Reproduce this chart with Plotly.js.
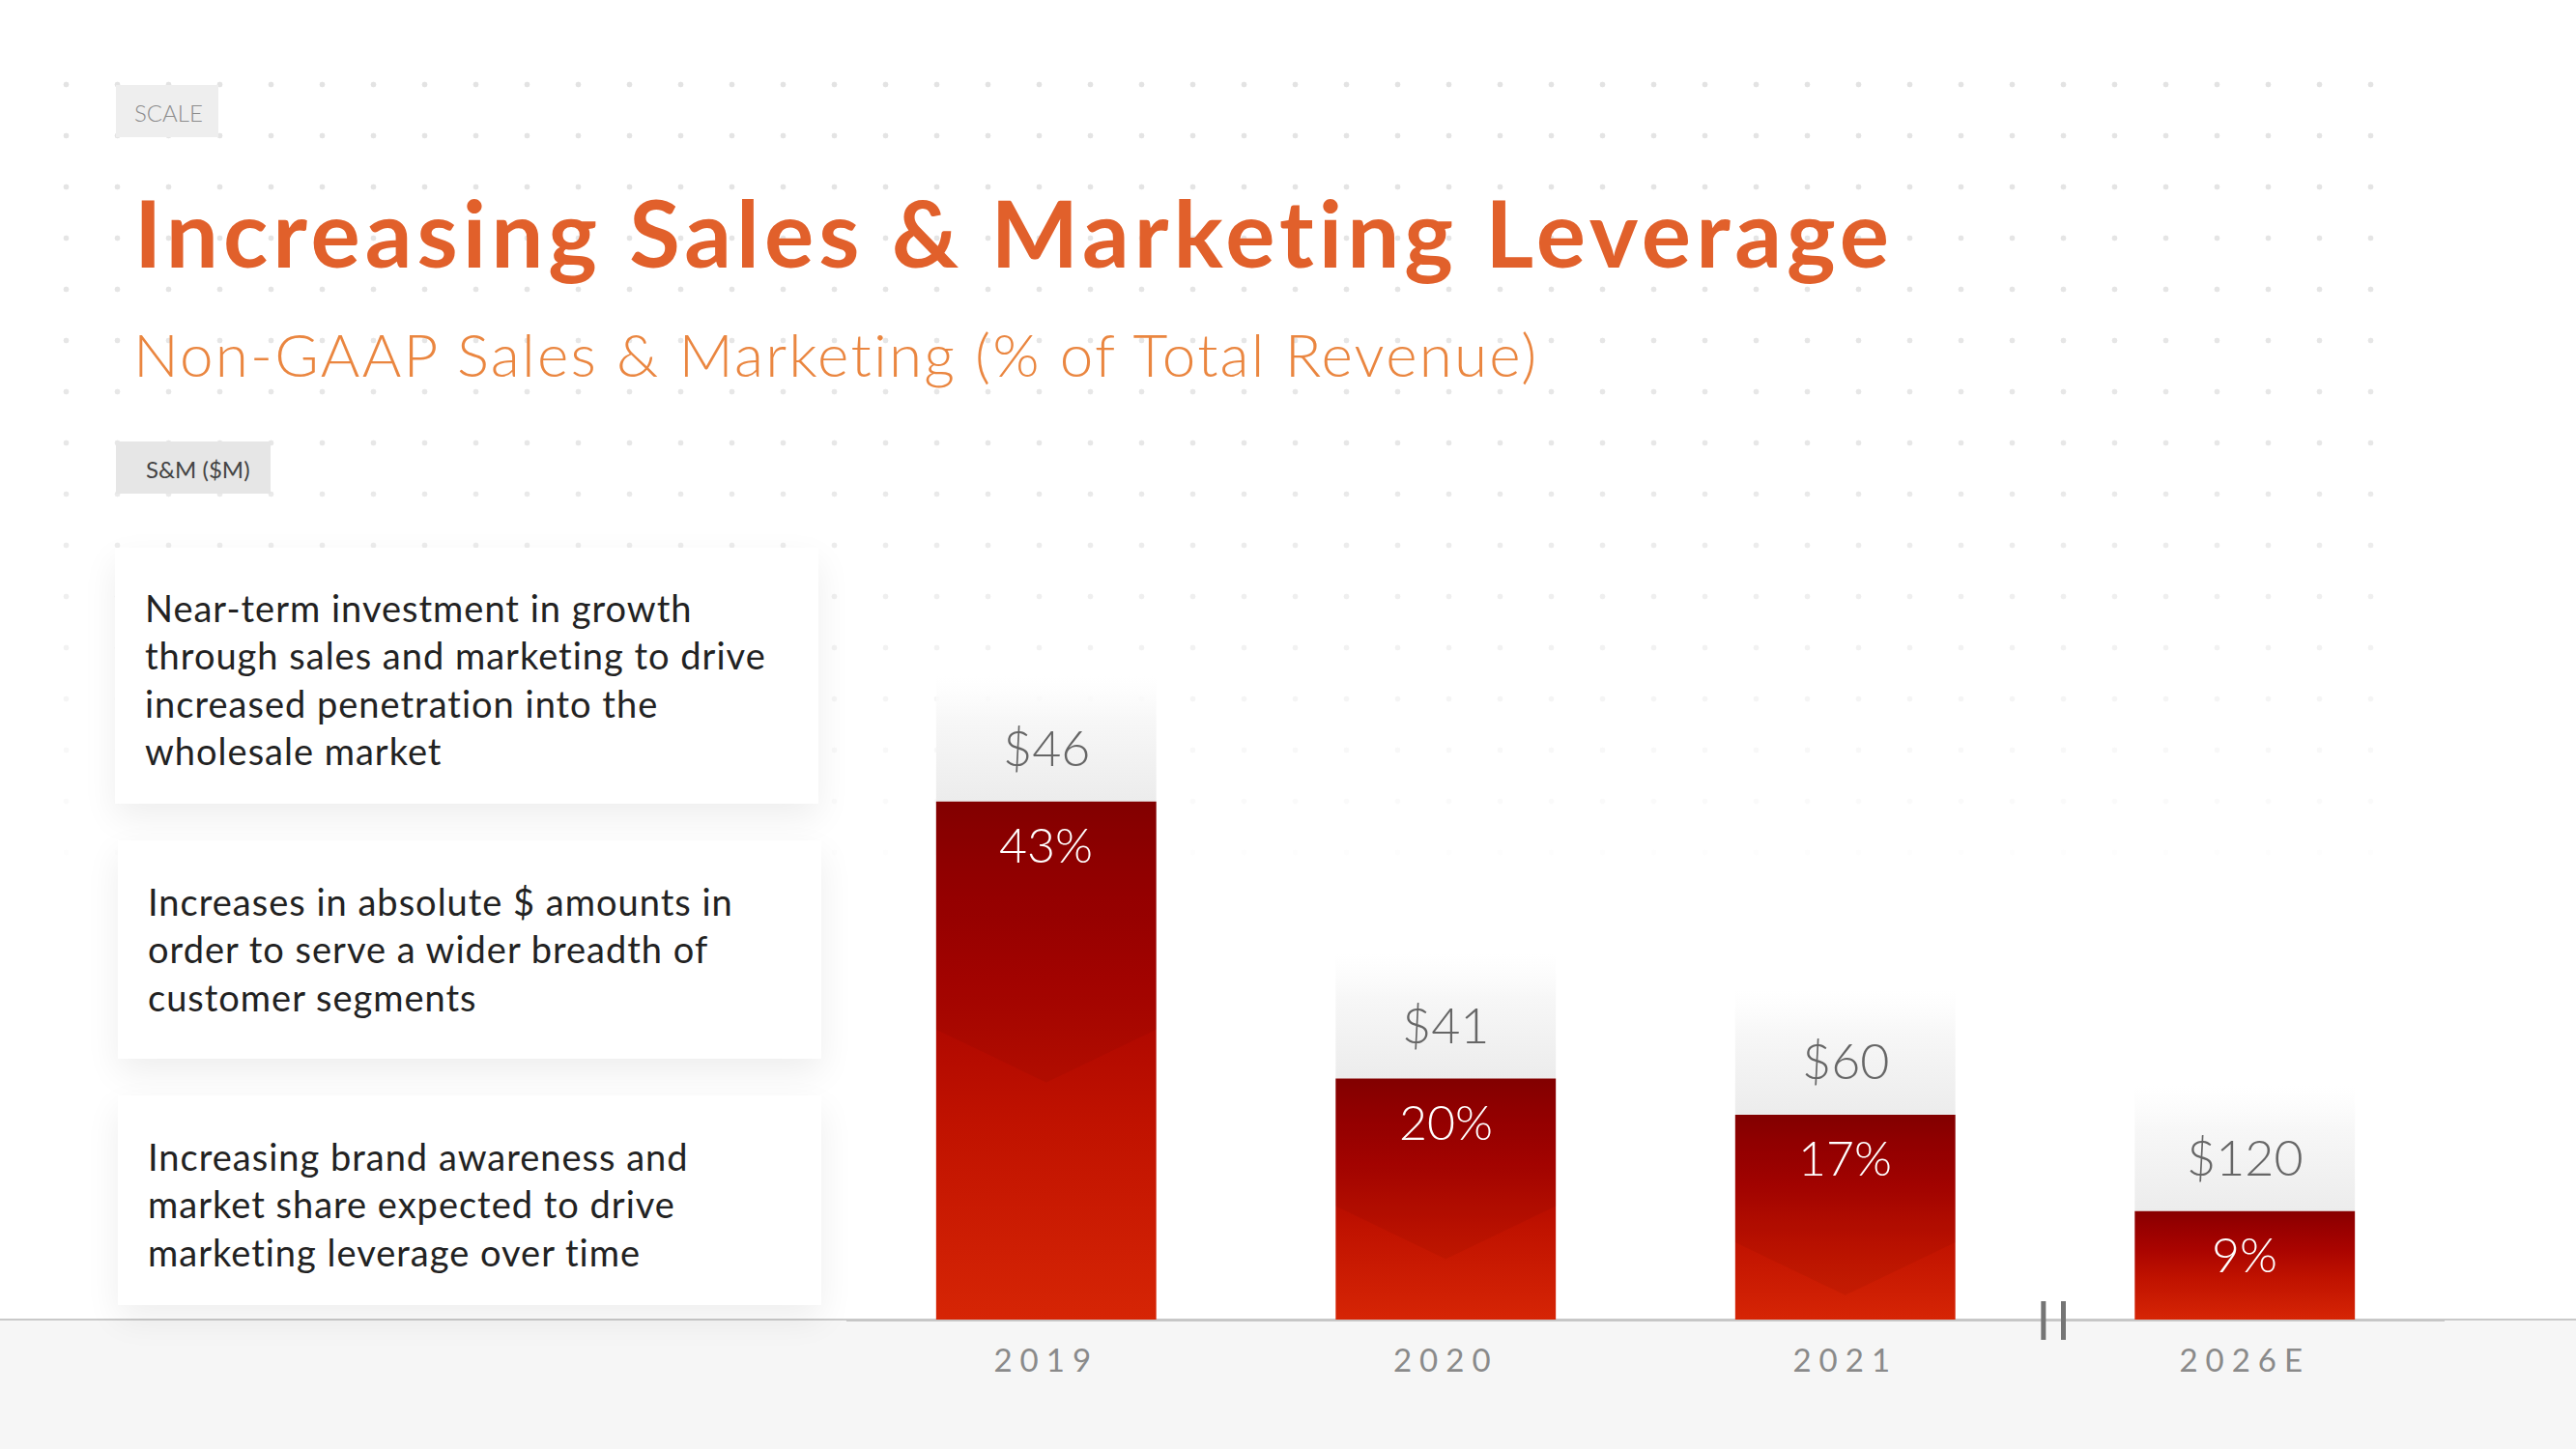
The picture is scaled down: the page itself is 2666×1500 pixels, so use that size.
<!DOCTYPE html>
<html>
<head>
<meta charset="utf-8">
<script src="https://cdn.plot.ly/plotly-3.0.1.min.js"></script>
<style>
  html, body { margin: 0; padding: 0; background: #ffffff; }
  body { width: 2666px; height: 1500px; position: relative; overflow: hidden; font-family: Lato, sans-serif; }
  #dots {
    position: absolute; left: 42px; top: 61px; width: 2450px; height: 900px;
    background-image: radial-gradient(circle at center, #e3e3e3 0, #e3e3e3 2.6px, rgba(255,255,255,0) 3.2px);
    background-size: 53px 53px;
    -webkit-mask-image: linear-gradient(to bottom, rgba(0,0,0,1) 0%, rgba(0,0,0,0.85) 45%, rgba(0,0,0,0) 95%);
    mask-image: linear-gradient(to bottom, rgba(0,0,0,1) 0%, rgba(0,0,0,0.85) 45%, rgba(0,0,0,0) 95%);
    z-index: 0;
  }
  #band { position: absolute; left: 0; top: 1365px; width: 2666px; height: 135px; background: #f6f6f6; border-top: 2px solid #c9c9c9; z-index: 1; }
  .card { position: absolute; background: #ffffff; box-shadow: 0 14px 34px rgba(0,0,0,0.07); z-index: 2; }
  #chart { position: absolute; left: 0; top: 0; z-index: 3; }
  #chart .xtick text { letter-spacing: 8px; }
  #chart .gtitle { letter-spacing: 5px; }
</style>
</head>
<body>
<div id="dots"></div>
<div id="band"></div>
<div class="card" style="left:119px; top:567px; width:728px; height:265px;"></div>
<div class="card" style="left:122px; top:870px; width:728px; height:226px;"></div>
<div class="card" style="left:122px; top:1134px; width:728px; height:217px;"></div>
<div id="chart"></div>
<script>
// ---------------- data ----------------
const categories = ['2019', '2020', '2021', '2026E'];
const pctOfRevenue = [43, 20, 17, 9];          // Non-GAAP S&M as % of total revenue
const smDollars = [46, 41, 60, 120];           // S&M ($M)
const pctLabels = pctOfRevenue.map(v => v + '%');
const dollarLabels = smDollars.map(v => '$' + v);

const titleText = 'Increasing Sales &amp; Marketing Leverage';
const subtitleText = 'Non-GAAP Sales &amp; Marketing (% of Total Revenue)';
const sectionTag = 'SCALE';
const unitTag = 'S&amp;M ($M)';
const bullets = [
  'Near-term investment in growth<br>through sales and marketing to drive<br>increased penetration into the<br>wholesale market',
  'Increases in absolute $ amounts in<br>order to serve a wider breadth of<br>customer segments',
  'Increasing brand awareness and<br>market share expected to drive<br>marketing leverage over time'
];

// ---------------- layout constants ----------------
const W = 2666, H = 1500;
const M = { l: 876, r: 136, t: 366, b: 134 };
const PW = W - M.l - M.r, PH = H - M.t - M.b;
const px = v => (v - M.l) / PW;          // pixel -> paper x
const py = v => (H - M.b - v) / PH;      // pixel -> paper y
const LABEL_BOX = 10.4;                  // height of the grey value box above each bar (axis units)
const FONT = 'Lato, "Open Sans", sans-serif';

const traces = [
  {
    type: 'bar', x: categories, y: categories.map(() => LABEL_BOX), base: pctOfRevenue,
    marker: { color: '#efefef', line: { width: 0 } }, hoverinfo: 'skip', name: 'box'
  },
  {
    type: 'bar', x: categories, y: pctOfRevenue,
    marker: { color: '#b00a00', line: { width: 0 } }, hoverinfo: 'skip', name: 'pct'
  }
];

const annotations = [];
categories.forEach((c, i) => {
  annotations.push({
    x: i, y: pctOfRevenue[i], xref: 'x', yref: 'y', yshift: 57, showarrow: false,
    text: dollarLabels[i], xanchor: 'center', yanchor: 'middle',
    font: { family: FONT, size: 52, color: '#666666', weight: 300 }
  });
  annotations.push({
    x: i, y: pctOfRevenue[i], xref: 'x', yref: 'y', yshift: -44, showarrow: false,
    text: pctLabels[i], xanchor: 'center', yanchor: 'middle',
    font: { family: FONT, size: 50, color: '#ffffff', weight: 300 }
  });
});

// subtitle
annotations.push({
  xref: 'paper', yref: 'paper', x: px(136), y: py(366), xanchor: 'left', yanchor: 'middle',
  showarrow: false, text: subtitleText, name: 'subtitle',
  font: { family: FONT, size: 62, color: '#ea8640', weight: 300 }
});
// tags
annotations.push({
  xref: 'paper', yref: 'paper', x: px(137), y: py(116), xanchor: 'left', yanchor: 'middle',
  showarrow: false, text: sectionTag, font: { family: FONT, size: 24, color: '#8c8c8c', weight: 300 }
});
annotations.push({
  xref: 'paper', yref: 'paper', x: px(149), y: py(485), xanchor: 'left', yanchor: 'middle',
  showarrow: false, text: unitTag, font: { family: FONT, size: 24, color: '#444444' }
});
// bullet cards
const bulletPos = [[148, 703], [151, 982], [151, 1246]];
bullets.forEach((b, i) => {
  annotations.push({
    xref: 'paper', yref: 'paper', x: px(bulletPos[i][0]), y: py(bulletPos[i][1]),
    xanchor: 'left', yanchor: 'middle', align: 'left', showarrow: false, text: b, name: 'bullet',
    font: { family: FONT, size: 38, color: '#222222' }
  });
});

const shapes = [
  { type: 'rect', xref: 'paper', yref: 'paper', x0: px(120), x1: px(226), y0: py(88), y1: py(142),
    fillcolor: '#eeeeee', line: { width: 0 }, layer: 'below' },
  { type: 'rect', xref: 'paper', yref: 'paper', x0: px(120), x1: px(280), y0: py(457), y1: py(511),
    fillcolor: '#e6e6e6', line: { width: 0 }, layer: 'below' },
  // axis break mark
  { type: 'line', xref: 'x', yref: 'paper', x0: 2.496, x1: 2.496, y0: py(1347), y1: py(1387),
    line: { color: '#757575', width: 5 } },
  { type: 'line', xref: 'x', yref: 'paper', x0: 2.546, x1: 2.546, y0: py(1347), y1: py(1387),
    line: { color: '#757575', width: 5 } }
];

const layout = {
  width: W, height: H,
  margin: M,
  paper_bgcolor: 'rgba(0,0,0,0)', plot_bgcolor: 'rgba(0,0,0,0)',
  showlegend: false,
  barmode: 'overlay', bargap: 0.449,
  title: {
    text: titleText, xref: 'container', yref: 'container', x: 139 / W, xanchor: 'left',
    y: 1 - 243 / H, yanchor: 'middle',
    font: { family: FONT, size: 96, color: '#e1602b', weight: 700 }
  },
  xaxis: {
    type: 'category', range: [-0.5, 3.5], fixedrange: true,
    showline: true, linecolor: '#c6c6c6', linewidth: 2, ticks: '', showgrid: false, zeroline: false,
    tickfont: { family: FONT, size: 33, color: '#8a8a8a' }, ticklabelstandoff: 12
  },
  yaxis: { range: [0, PH / 12.47], visible: false, showgrid: false, zeroline: false, fixedrange: true },
  annotations: annotations,
  shapes: shapes
};

Plotly.newPlot('chart', traces, layout, { staticPlot: true, displayModeBar: false }).then(gd => {
  const svg = gd.querySelector('svg.main-svg');
  const NS = 'http://www.w3.org/2000/svg';
  let defs = svg.querySelector('defs');
  if (!defs) { defs = document.createElementNS(NS, 'defs'); svg.insertBefore(defs, svg.firstChild); }
  function grad(id, stops) {
    const g = document.createElementNS(NS, 'linearGradient');
    g.setAttribute('id', id); g.setAttribute('x1', '0'); g.setAttribute('y1', '0');
    g.setAttribute('x2', '0'); g.setAttribute('y2', '1');
    stops.forEach(s => {
      const st = document.createElementNS(NS, 'stop');
      st.setAttribute('offset', s[0]); st.setAttribute('stop-color', s[1]);
      if (s[2] !== undefined) st.setAttribute('stop-opacity', s[2]);
      g.appendChild(st);
    });
    defs.appendChild(g);
  }
  grad('gradRed', [[0, '#870000'], [0.12, '#950000'], [0.35, '#a90400'], [0.62, '#c01200'], [1, '#d62505']]);
  grad('gradBox', [[0, '#ffffff', 0.6], [0.35, '#f7f7f7'], [1, '#ececec']]);
  const bars = svg.querySelectorAll('.barlayer .trace');
  bars.forEach((t, ti) => {
    t.querySelectorAll('path').forEach(p => {
      p.style.fill = ti === 0 ? 'url(#gradBox)' : 'url(#gradRed)';
      p.style.fillOpacity = 1;
      if (ti === 1) {
        // subtle chevron shading inside each red bar, derived from the bar's own geometry
        const b = p.getBBox();
        if (b.height > 150) {
          const side = Math.max(132, 0.44 * b.height), depth = 0.24 * b.width;
          const poly = document.createElementNS(NS, 'path');
          const x0 = b.x, x1 = b.x + b.width, xc = b.x + b.width / 2, y0 = b.y;
          poly.setAttribute('d', `M${x0},${y0}L${x1},${y0}L${x1},${y0 + side}L${xc},${y0 + side + depth}L${x0},${y0 + side}Z`);
          poly.setAttribute('fill', 'rgba(70,0,0,0.07)');
          p.parentNode.parentNode.appendChild(poly);
        }
      }
    });
  });
  // spacing tweaks for text set in Lato (reference uses a wider face); keep left edges fixed
  gd.querySelectorAll('text.annotation-text').forEach(t => {
    const s = t.textContent;
    let ls = null;
    if (s.indexOf('Non-GAAP') === 0) ls = '2.2px';
    else if (t.querySelectorAll('tspan.line').length > 1) ls = '1px';
    if (!ls) return;
    const before = t.getBBox().x;
    t.style.letterSpacing = ls;
    const after = t.getBBox().x;
    const prev = t.getAttribute('transform') || '';
    t.setAttribute('transform', `translate(${before - after},0) ${prev}`);
  });
});
</script>
</body>
</html>
